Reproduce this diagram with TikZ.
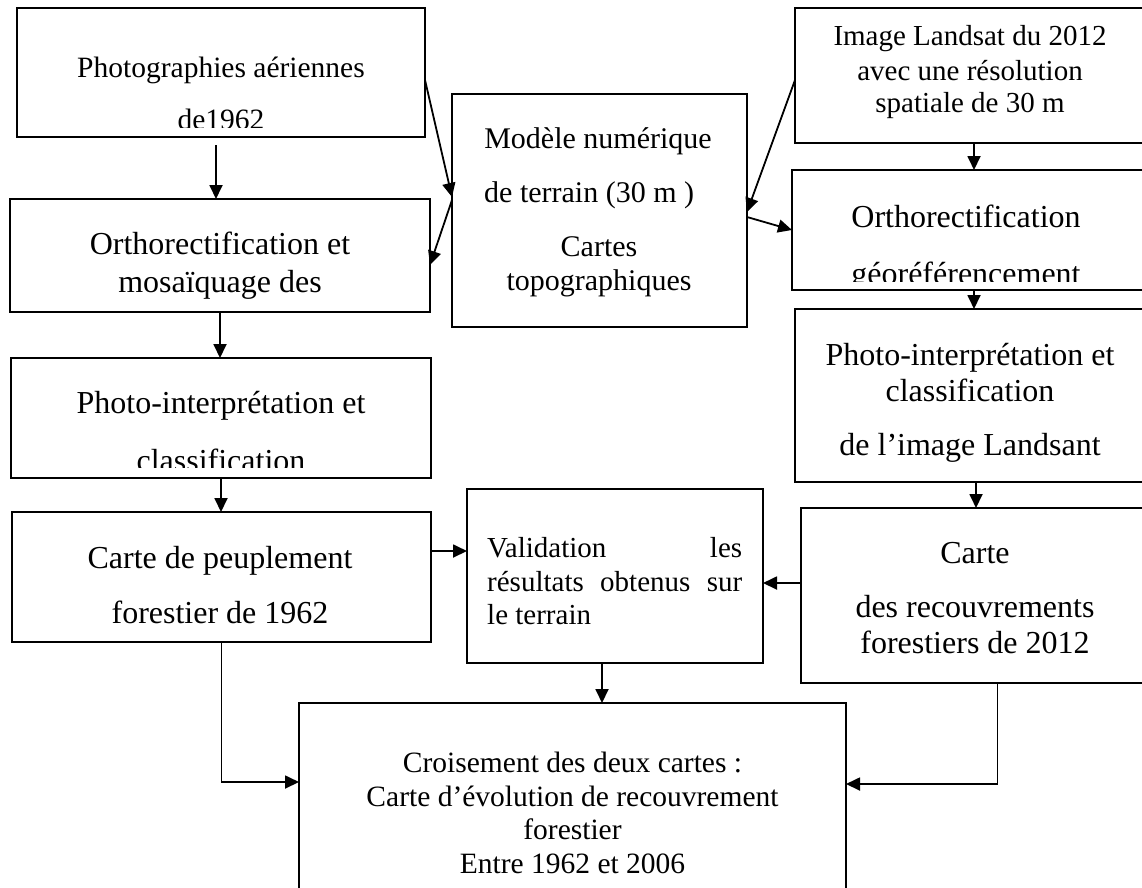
\documentclass[tikz,border=0pt]{standalone}
\usepackage{fontspec}
\setmainfont{Liberation Serif}
\usetikzlibrary{arrows.meta,calc}
\begin{document}
\begin{tikzpicture}[x=1pt,y=-1pt,
  bx/.style={draw, line width=1.9pt, inner sep=0pt, outer sep=0pt, anchor=north west},
  arr/.style={line width=1.8pt, -{Triangle[length=14pt,width=13pt]}},
  tx/.style={inner sep=0pt, anchor=base},
  txl/.style={inner sep=0pt, anchor=base west},
  fA/.style={font=\fontsize{29.5}{30}\selectfont},
  fB/.style={font=\fontsize{32}{32}\selectfont},
  fC/.style={font=\fontsize{30}{30}\selectfont},
  fD/.style={font=\fontsize{29}{29}\selectfont}]
\useasboundingbox (0,0) rectangle (1142,887);
\clip (0,0) rectangle (1142,887);
\fill[white] (0,0) rectangle (1142,887);

% boxes
\node[bx, minimum width=408pt, minimum height=129pt] (A) at (17,8) {};
\node[bx, minimum width=420pt, minimum height=113pt] (B) at (10,199) {};
\node[bx, minimum width=295pt, minimum height=233pt] (C) at (452,94) {};
\node[bx, minimum width=353pt, minimum height=135pt] (D) at (795,8) {};
\node[bx, minimum width=356pt, minimum height=120pt] (E) at (792,170) {};
\node[bx, minimum width=353pt, minimum height=173pt] (F) at (795,309) {};
\node[bx, minimum width=420pt, minimum height=120pt] (G) at (11,358) {};
\node[bx, minimum width=419pt, minimum height=130pt] (H) at (12,512) {};
\node[bx, minimum width=296pt, minimum height=174pt] (I) at (467,489) {};
\node[bx, minimum width=347pt, minimum height=175pt] (J) at (801,508) {};
\node[bx, minimum width=547pt, minimum height=200pt] (K) at (299,703) {};

% texts
\node[tx,fA] (tA1) at (221,77) {Photographies aériennes};
\begin{scope}
\clip (17,8) rectangle (425,127.5);
\node[tx,fA] (tA2) at (221,129) {de1962};
\end{scope}
\node[tx,fB] (tB1) at (220,254) {Orthorectification et};
\node[tx,fB] (tB2) at (220,292) {mosaïquage des};
\node[tx,fC] (tC1) at (598,148) {Modèle numérique};
\node[txl,fC] (tC2) at (484,202) {de terrain (30 m )};
\node[tx,fC] (tC3) at (599,256) {Cartes};
\node[tx,fC] (tC4) at (599,290) {topographiques};
\node[tx,fD] (tD1) at (970,45) {Image Landsat du 2012};
\node[tx,fD] (tD2) at (970,80) {avec une résolution};
\node[tx,fD] (tD3) at (970,112) {spatiale de 30 m};
\node[tx,fB] (tE1) at (966,227) {Orthorectification};
\begin{scope}
\clip (792,170) rectangle (1148,281);
\node[tx,fB] (tE2) at (966,284) {géoréférencement};
\end{scope}
\node[tx,fB] (tF1) at (970,365) {Photo-interprétation et};
\node[tx,fB] (tF2) at (970,401) {classification};
\node[tx,fB] (tF3) at (970,455) {de l’image Landsant};
\node[tx,fB] (tG1) at (221,413) {Photo-interprétation et};
\begin{scope}
\clip (11,358) rectangle (431,467);
\node[tx,fB] (tG2) at (221,471) {classification};
\end{scope}
\node[tx,fB] (tH1) at (220,568) {Carte de peuplement};
\node[tx,fB] (tH2) at (220,623) {forestier de 1962};
\node[txl,fD] (tI1) at (487,557) {\makebox[255pt][s]{Validation les}};
\node[txl,fD] (tI2) at (487,591) {\makebox[255pt][s]{résultats obtenus sur}};
\node[txl,fD] (tI3) at (487,624) {le terrain};
\node[tx,fB] (tJ1) at (975,563) {Carte};
\node[tx,fB] (tJ2) at (975,617) {des recouvrements};
\node[tx,fB] (tJ3) at (975,653) {forestiers de 2012};
\node[tx,fA] (tK1) at (572.5,772) {Croisement des deux cartes :};
\node[tx,fA] (tK2) at (572.5,806) {Carte d’évolution de recouvrement};
\node[tx,fA] (tK3) at (572.5,839) {forestier};
\node[tx,fA] (tK4) at (572.5,873) {Entre 1962 et 2006};

% connectors
\draw[arr] ($(A.south)+(-5,8)$) -- ($(B.north)+(-4,0)$);
\draw[arr] (B.south) -- (B.south |- G.north);
\draw[arr] (G.south) -- (G.south |- H.north);
\draw[arr] ($(H.east)+(0,-26)$) coordinate (h1) -- (h1 -| I.west);
\draw[arr] (H.south) |- ($(K.west)+(0,-21)$);
\draw[arr] ($(I.south)+(-13,0)$) coordinate (i1) -- (i1 |- K.north);
\draw[arr] ($(J.west)+(0,-12.5)$) coordinate (j1) -- (j1 -| I.east);
\draw[arr] ($(J.south)+(23,0)$) |- ($(K.east)+(0,-19)$);
\draw[arr] ($(D.south)+(2.5,0)$) coordinate (d1) -- (d1 |- E.north);
\draw[arr] ($(E.south)+(4,0)$) coordinate (e1) -- (e1 |- F.north);
\draw[arr] ($(F.south)+(4.5,0)$) coordinate (f1) -- (f1 |- J.north);
\draw[arr] ($(A.east)+(0,7.5)$) -- ($(C.west)+(0,-13.5)$);
\draw[arr] ($(C.west)+(0,-10.5)$) -- ($(B.east)+(0,9.5)$);
\draw[arr] ($(D.west)+(0,4.5)$) -- ($(C.east)+(0,1.5)$);
\draw[arr] ($(C.east)+(0,6.5)$) -- (E.west);
\end{tikzpicture}
\end{document}
